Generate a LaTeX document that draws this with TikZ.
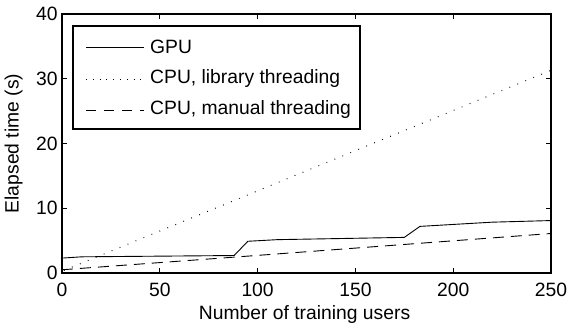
\documentclass[tikz,border=0pt]{standalone}
\usepackage{fontspec}
\setmainfont{Liberation Sans}
\begin{document}
\begin{tikzpicture}[
  lbl/.style={font=\fontsize{19.3}{22}\selectfont, inner sep=0pt},
  gpuline/.style={line width=0.9pt, black},
  libline/.style={line width=1pt, black, dash pattern=on 0.8pt off 7.8pt},
  manline/.style={line width=0.9pt, black, dash pattern=on 11pt off 7pt},
  frame/.style={line width=1.1pt, black},
]
\useasboundingbox (0,0) rectangle (569pt,322pt);
\begin{scope}[shift={(62pt,49pt)}, x=1.956pt, y=6.475pt]
  % axes box
  \draw[frame] (0,0) rectangle (250,40);
  % ticks
  \foreach \t in {50,100,150,200} {
    \draw[line width=0.7pt] (\t,0) -- ++(0,5pt);
    \draw[line width=0.7pt] (\t,40) -- ++(0,-5pt);
  }
  \foreach \t in {10,20,30} {
    \draw[line width=0.7pt] (0,\t) -- ++(5pt,0);
    \draw[line width=0.7pt] (250,\t) -- ++(-5pt,0);
  }
  \foreach \t/\n in {0/x0,50/x50,100/x100,150/x150,200/x200,250/x250}
    \node[lbl, anchor=north] (\n) at (\t,-1.5) {\t};
  \foreach \t/\n in {0/y0,10/y10,20/y20,30/y30,40/y40}
    \node[lbl, anchor=east] (\n) at (-2.2,\t) {\t};
  \node[lbl, anchor=north] (xlab) at (124,-5.05) {Number of training users};
  \node[lbl, rotate=90, anchor=south] (ylab) at (-20,20) {Elapsed time (s)};
  % data
  \draw[libline] (1,0.4) -- (250,31.3);
  \draw[manline] (0,0.5) -- (88,2.45) -- (250,6.1);
  \draw[gpuline] (0,2.3) -- (10,2.5) -- (88,2.7) -- (95,4.9) -- (110,5.15) -- (175,5.5) -- (183,7.2) -- (200,7.5) -- (220,7.85) -- (250,8.1);
\end{scope}
% legend
\draw[frame, fill=white] (73pt,193pt) rectangle (360pt,296pt);
\coordinate (g1) at (86pt,275pt); \coordinate (g2) at (144pt,275pt);
\coordinate (l1) at (86pt,243pt); \coordinate (l2) at (144pt,243pt);
\coordinate (m1) at (86pt,212pt); \coordinate (m2) at (144pt,212pt);
\draw[gpuline] (g1) -- (g2);
\draw[libline, dash pattern=on 0.8pt off 6pt] (l1) -- (l2);
\draw[manline, dash pattern=on 10pt off 8pt] (m1) -- (m2);
\node[lbl, anchor=west] (tg) at (150pt,275pt) {GPU};
\node[lbl, anchor=west] (tl) at (150pt,243pt) {CPU, library threading};
\node[lbl, anchor=west] (tm) at (150pt,212pt) {CPU, manual threading};
\end{tikzpicture}
\end{document}
